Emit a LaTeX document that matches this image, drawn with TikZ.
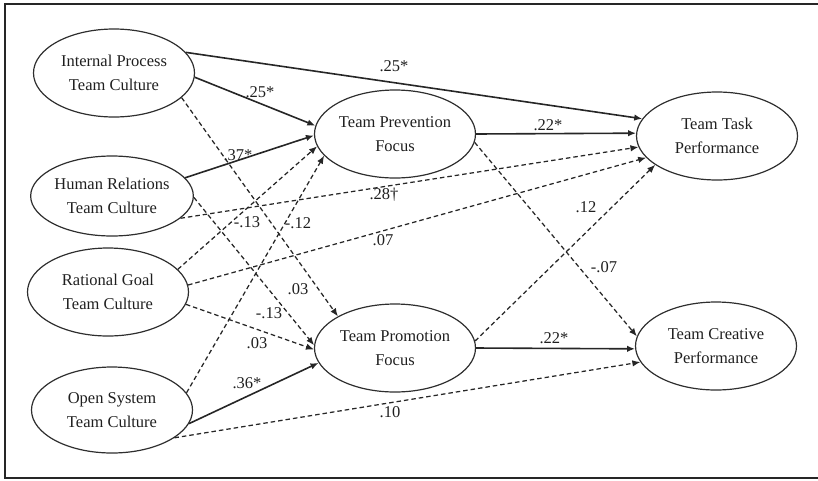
\documentclass[tikz,border=0pt]{standalone}
\usepackage{fontspec}
\setmainfont{Liberation Serif}
\newfontfamily\tnrfont{Liberation Serif}
\usetikzlibrary{shapes.geometric,arrows.meta}
\begin{document}
\begin{tikzpicture}[x=1pt,y=-1pt,
 every node/.style={font=\tnrfont\fontsize{16.5}{24}\selectfont, text=black!88},
 var/.style={ellipse, draw=black!82, line width=1.2pt, inner sep=0pt, align=center, minimum width=161pt, minimum height=88pt},
 arr/.style={draw=black!85, line width=1.6pt, -{Latex[length=8pt,width=6.5pt]}},
 darr/.style={arr, line width=1.25pt, dash pattern=on 4.5pt off 3pt},
 lab/.style={inner sep=0pt}]
\useasboundingbox (0,0) rectangle (818,480);
\draw[line width=1.6pt, black!85] (818,4) -- (5,4) -- (5,478) -- (818,478);

% variables
\node[var] (ip) at (114,73) {Internal Process\\Team Culture};
\node[var, minimum height=80pt] (hr) at (112,196) {Human Relations\\Team Culture};
\node[var] (rg) at (108,292) {Rational Goal\\Team Culture};
\node[var, minimum height=86pt] (os) at (112,410) {Open System\\Team Culture};
\node[var] (pv) at (395,134) {Team Prevention\\Focus};
\node[var] (pm) at (395,348) {Team Promotion\\Focus};
\node[var] (tt) at (717,136) {Team Task\\Performance};
\node[var] (tc) at (716,346) {Team Creative\\Performance};

% paths
\draw[arr]  (ip.16.5) -- (tt.167);
\draw[arr]  (ip.-3)   -- (pv.174);
\draw[arr]  (hr.14)   -- (pv.181);
\draw[darr] (rg.18)   -- (pv.189.5);
\draw[darr] (os.13)   -- (pv.197);
\draw[darr] (ip.-20)  -- (pm.151);
\draw[darr] (hr.-1)   -- (pm.178);
\draw[darr] (rg.-9.3) -- (pm.181.5);
\draw[arr]  (os.-10.4) -- (pm.191.7);
\draw[darr] (hr.-18)  -- (tt.188.6);
\draw[darr] (rg.5.7)  -- (tt.197.3);
\draw[arr]  (pv.0)    -- (tt.178.5);
\draw[darr] (pm.5.7)  -- (tt.205);
\draw[darr] (pv.-6)   -- (tc.173);
\draw[arr]  (pm.-0.5) -- (tc.182);
\draw[darr] (os.-24.3) -- (tc.192.6);

% coefficients
\node[lab] (c1)  at (394,66)  {.25*};
\node[lab] (c2)  at (260,92)  {.25*};
\node[lab] (c3)  at (238,155) {.37*};
\node[lab] (c4)  at (384,195) {.28†};
\node[lab] (c5)  at (247,222) {-.13};
\node[lab] (c6)  at (298,223) {-.12};
\node[lab] (c7)  at (383,240) {.07};
\node[lab] (c8)  at (298,289) {.03};
\node[lab] (c9)  at (269,313) {-.13};
\node[lab] (c10) at (257,343) {.03};
\node[lab] (c11) at (247,383) {.36*};
\node[lab] (c12) at (390,412) {.10};
\node[lab] (c13) at (548,125) {.22*};
\node[lab] (c14) at (586,207) {.12};
\node[lab] (c15) at (604,267) {-.07};
\node[lab] (c16) at (554,338) {.22*};
\end{tikzpicture}
\end{document}
